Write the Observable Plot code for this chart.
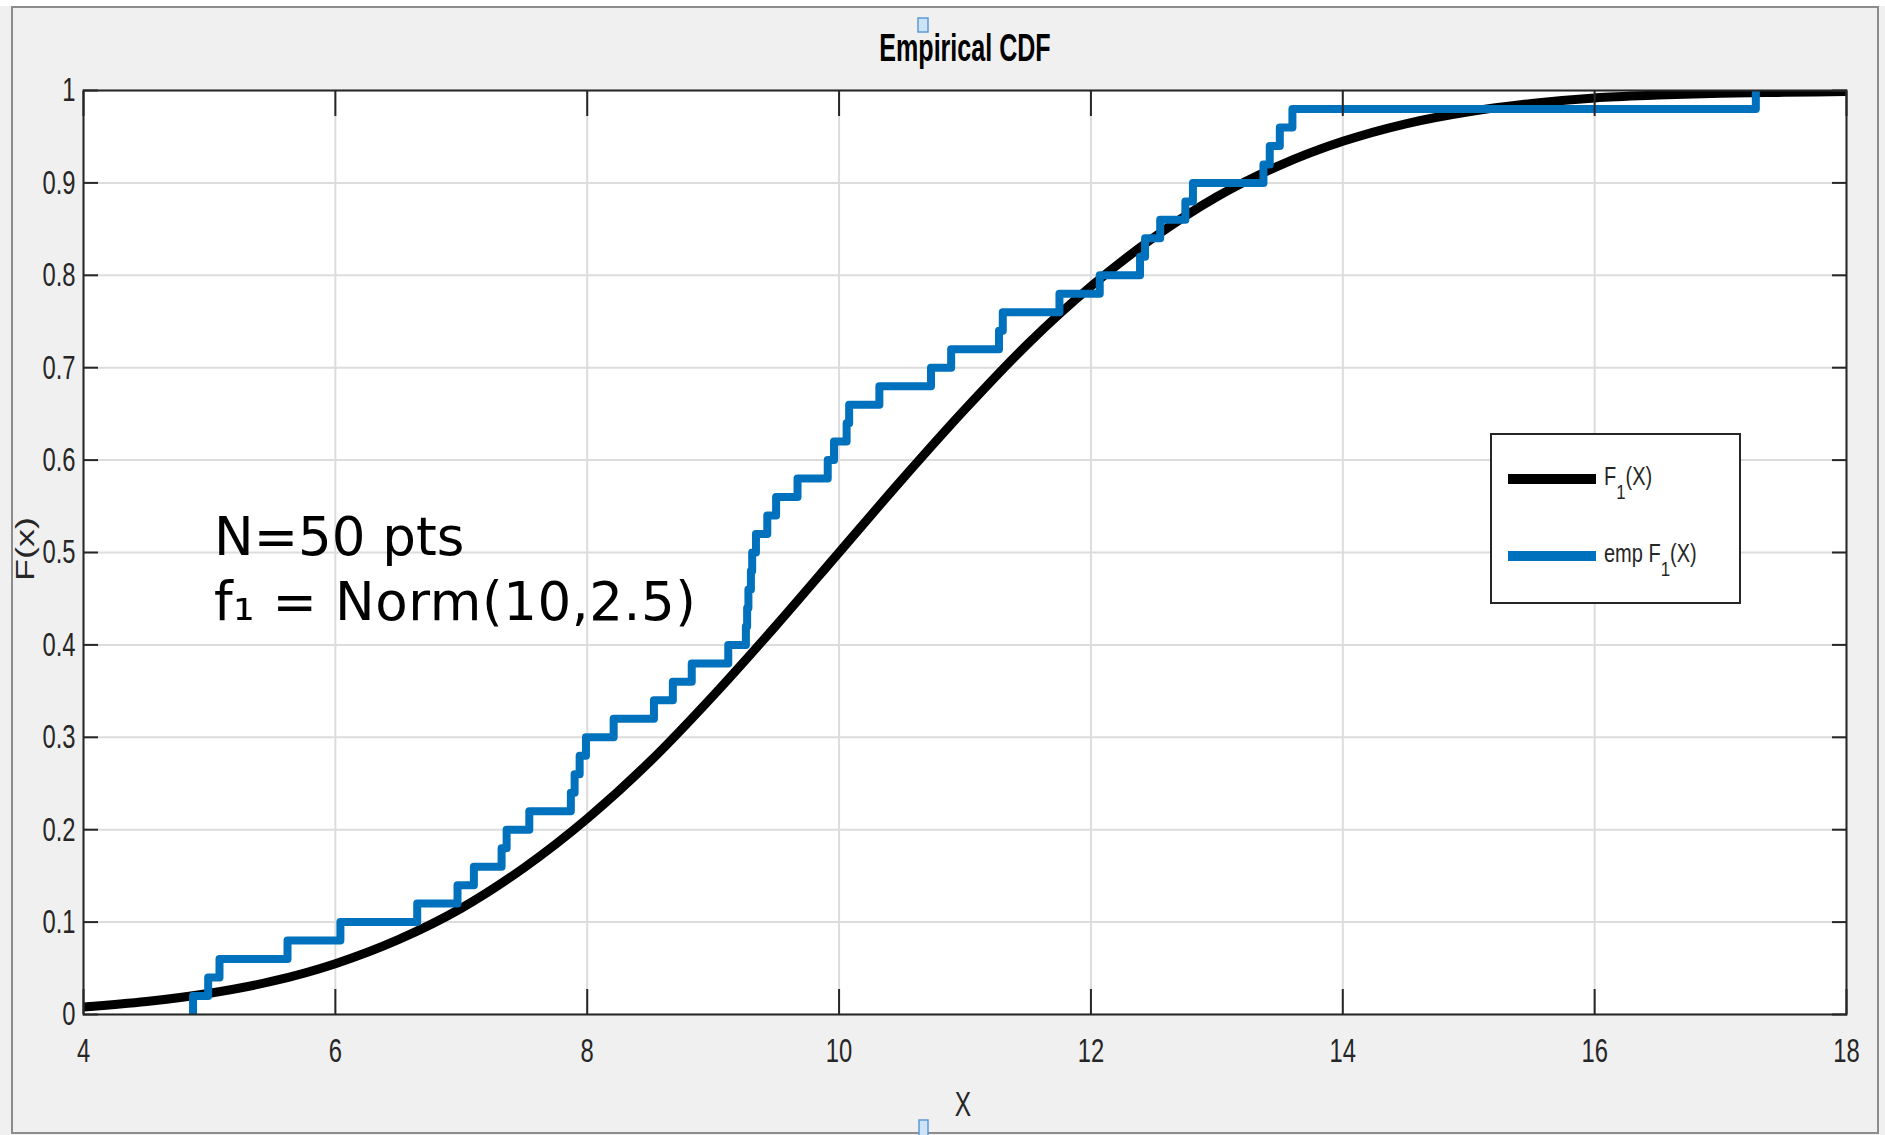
<!DOCTYPE html>
<html><head><meta charset="utf-8">
<script src="https://cdn.jsdelivr.net/npm/d3@7"></script>
<script src="https://cdn.jsdelivr.net/npm/@observablehq/plot@0.6"></script>
<style>
html,body{margin:0;padding:0;background:#f0f0f0;}
#wrap{position:relative;width:1885px;height:1135px;overflow:hidden;background:#f0f0f0;}
#wrap > svg{position:absolute;left:0;top:0;}
</style></head>
<body><div id="wrap"></div>
<script>
// ---- data ----
const xTicks = [4, 6, 8, 10, 12, 14, 16, 18];
const yTicks = [0, 0.1, 0.2, 0.3, 0.4, 0.5, 0.6, 0.7, 0.8, 0.9, 1];
const yTickLabels = ["0", "0.1", "0.2", "0.3", "0.4", "0.5", "0.6", "0.7", "0.8", "0.9", "1"];

// theoretical CDF F1(X)
const cdfX = [4, 4.5, 5, 5.5, 6, 6.5, 7, 7.5, 8, 8.5, 9, 9.5, 10, 10.5, 11, 11.5, 12, 12.5, 13, 13.5, 14, 14.5, 15, 15.5, 16, 16.5, 17, 17.5, 18];
const cdfF = [0.008, 0.014, 0.023, 0.036, 0.055, 0.081, 0.115, 0.159, 0.212, 0.274, 0.345, 0.421, 0.500, 0.579, 0.655, 0.726, 0.788, 0.841, 0.885, 0.919, 0.945, 0.964, 0.977, 0.986, 0.992, 0.995, 0.997, 0.998, 0.999];

// sample points (x position of each step of the blue empirical CDF)
const empX = [4.87, 4.99, 5.08, 5.62, 6.04, 6.65, 6.97, 7.10, 7.32, 7.36,
              7.54, 7.87, 7.90, 7.94, 7.99, 8.21, 8.53, 8.68, 8.83, 9.12,
              9.26, 9.27, 9.28, 9.30, 9.31, 9.34, 9.43, 9.50, 9.67, 9.91,
              9.96, 10.06, 10.08, 10.32, 10.73, 10.89, 11.27, 11.30, 11.75, 12.07,
              12.39, 12.43, 12.55, 12.75, 12.81, 13.37, 13.42, 13.50, 13.60, 17.28];

const seriesNames = ["F\u2081(X)", "emp F\u2081(X)"];
const seriesColors = ["#000000", "#0072BD"];

// ---- tables ----
const cdfTable = cdfX.map((x, i) => ({x, F: cdfF[i]}));
const N = empX.length;
const empTable = [{x: empX[0], F: 0}].concat(empX.map((x, i) => ({x, F: (i + 1) / N})));

const axisColor = "#262626";
const fontFam = "'Liberation Sans', Arial, Helvetica, sans-serif";

const plot = Plot.plot({
  width: 1885, height: 1135,
  marginLeft: 83, marginRight: 39, marginTop: 90, marginBottom: 121,
  style: {background: "transparent", fontFamily: fontFam, fontSize: "34px", color: axisColor},
  x: {domain: [4, 18], label: null},
  y: {domain: [0, 1], label: null},
  marks: [
    Plot.frame({fill: "white"}),
    Plot.gridX(xTicks, {stroke: "#dcdcdc", strokeOpacity: 1, strokeWidth: 2}),
    Plot.gridY(yTicks, {stroke: "#dcdcdc", strokeOpacity: 1, strokeWidth: 2}),
    Plot.line(cdfTable, {x: "x", y: "F", stroke: seriesColors[0], strokeWidth: 9, curve: "monotone-x", clip: true}),
    Plot.line(empTable, {x: "x", y: "F", stroke: seriesColors[1], strokeWidth: 8, curve: "step-after", clip: true}),
    Plot.frame({stroke: axisColor, strokeWidth: 2}),
    // tick labels
    Plot.axisX(xTicks, {anchor: "bottom", tickSize: 0, tickPadding: 23, label: null, fontSize: 34, tickFormat: d => String(d)}),
    Plot.axisY(yTicks, {anchor: "left", tickSize: 0, tickPadding: 8, label: null, fontSize: 34, tickFormat: (d, i) => yTickLabels[i]}),
    // inward ticks on all four sides
    Plot.axisX(xTicks, {anchor: "bottom", tickSize: -25, tickFormat: () => "", label: null, stroke: axisColor, strokeWidth: 2}),
    Plot.axisX(xTicks, {anchor: "top", tickSize: -25, tickFormat: () => "", label: null, stroke: axisColor, strokeWidth: 2}),
    Plot.axisY(yTicks, {anchor: "left", tickSize: -15, tickFormat: () => "", label: null, stroke: axisColor, strokeWidth: 2}),
    Plot.axisY(yTicks, {anchor: "right", tickSize: -15, tickFormat: () => "", label: null, stroke: axisColor, strokeWidth: 2})
  ]
});

function squeeze(svg, label, k) {
  svg.querySelectorAll(`g[aria-label="${label}"] text`).forEach(t => {
    const tr = t.getAttribute("transform");
    if (tr) t.setAttribute("transform", tr + ` scale(${k},1)`);
    else {
      const x = +t.getAttribute("x") || 0, y = +t.getAttribute("y") || 0;
      t.setAttribute("transform", `translate(${x},${y}) scale(${k},1) translate(${-x},${-y})`);
    }
  });
}
squeeze(plot, "x-axis tick label", 0.7);
squeeze(plot, "y-axis tick label", 0.7);

const wrap = document.getElementById("wrap");
wrap.appendChild(plot);

// ---- overlay: frame, title, labels, annotation, legend ----
const ov = d3.create("svg").attr("width", 1885).attr("height", 1135)
  .attr("font-family", fontFam).style("pointer-events", "none");

ov.append("rect").attr("x", 0).attr("y", 0).attr("width", 1885).attr("height", 6).attr("fill", "#ffffff");
ov.append("rect").attr("x", 12).attr("y", 7).attr("width", 1866).attr("height", 1126)
  .attr("fill", "none").attr("stroke", "#8c8c8c").attr("stroke-width", 2);

// selection handles
ov.append("rect").attr("x", 918).attr("y", 18).attr("width", 10).attr("height", 14)
  .attr("fill", "#cfe3f6").attr("stroke", "#5a9bd6").attr("stroke-width", 1.5);
ov.append("rect").attr("x", 919).attr("y", 1120).attr("width", 9).attr("height", 16)
  .attr("fill", "#cfe3f6").attr("stroke", "#5a9bd6").attr("stroke-width", 1.5);

// title
ov.append("text").attr("transform", "translate(965,61) scale(0.66,1)")
  .attr("text-anchor", "middle").attr("font-weight", "bold").attr("font-size", 38)
  .attr("fill", "#000").text("Empirical CDF");

// axis labels
ov.append("text").attr("transform", "translate(963,1116) scale(0.7,1)")
  .attr("text-anchor", "middle").attr("font-size", 35).attr("fill", axisColor).text("X");
ov.append("text").attr("transform", "translate(34,549) scale(0.7,1) rotate(-90)")
  .attr("text-anchor", "middle").attr("font-size", 36).attr("fill", axisColor).text("F(x)");

// annotation
const ann = ov.append("g").attr("font-family", "'DejaVu Sans', Verdana, sans-serif").attr("font-size", 53).attr("fill", "#000");
ann.append("text").attr("x", 214).attr("y", 555).text("N=50 pts");
ann.append("text").attr("x", 214).attr("y", 620).attr("textLength", 482).attr("lengthAdjust", "spacing").text("f\u2081 = Norm(10,2.5)");

// legend
const lg = ov.append("g");
lg.append("rect").attr("x", 1491).attr("y", 434).attr("width", 249).attr("height", 169)
  .attr("fill", "white").attr("stroke", axisColor).attr("stroke-width", 2);
const rows = [{y: 479, pre: ""}, {y: 556, pre: "emp "}];
rows.forEach((r, i) => {
  lg.append("line").attr("x1", 1508).attr("x2", 1596).attr("y1", r.y).attr("y2", r.y)
    .attr("stroke", seriesColors[i]).attr("stroke-width", 10);
  const t = lg.append("text").attr("transform", `translate(1604,${r.y + 6}) scale(0.8,1)`)
    .attr("font-size", 25).attr("fill", axisColor);
  t.append("tspan").text(r.pre + "F");
  t.append("tspan").attr("dy", 14).attr("font-size", 21).text("1");
  t.append("tspan").attr("dy", -14).text("(X)");
  t.append("title").text(seriesNames[i]);
});

wrap.appendChild(ov.node());
</script>
</body></html>
